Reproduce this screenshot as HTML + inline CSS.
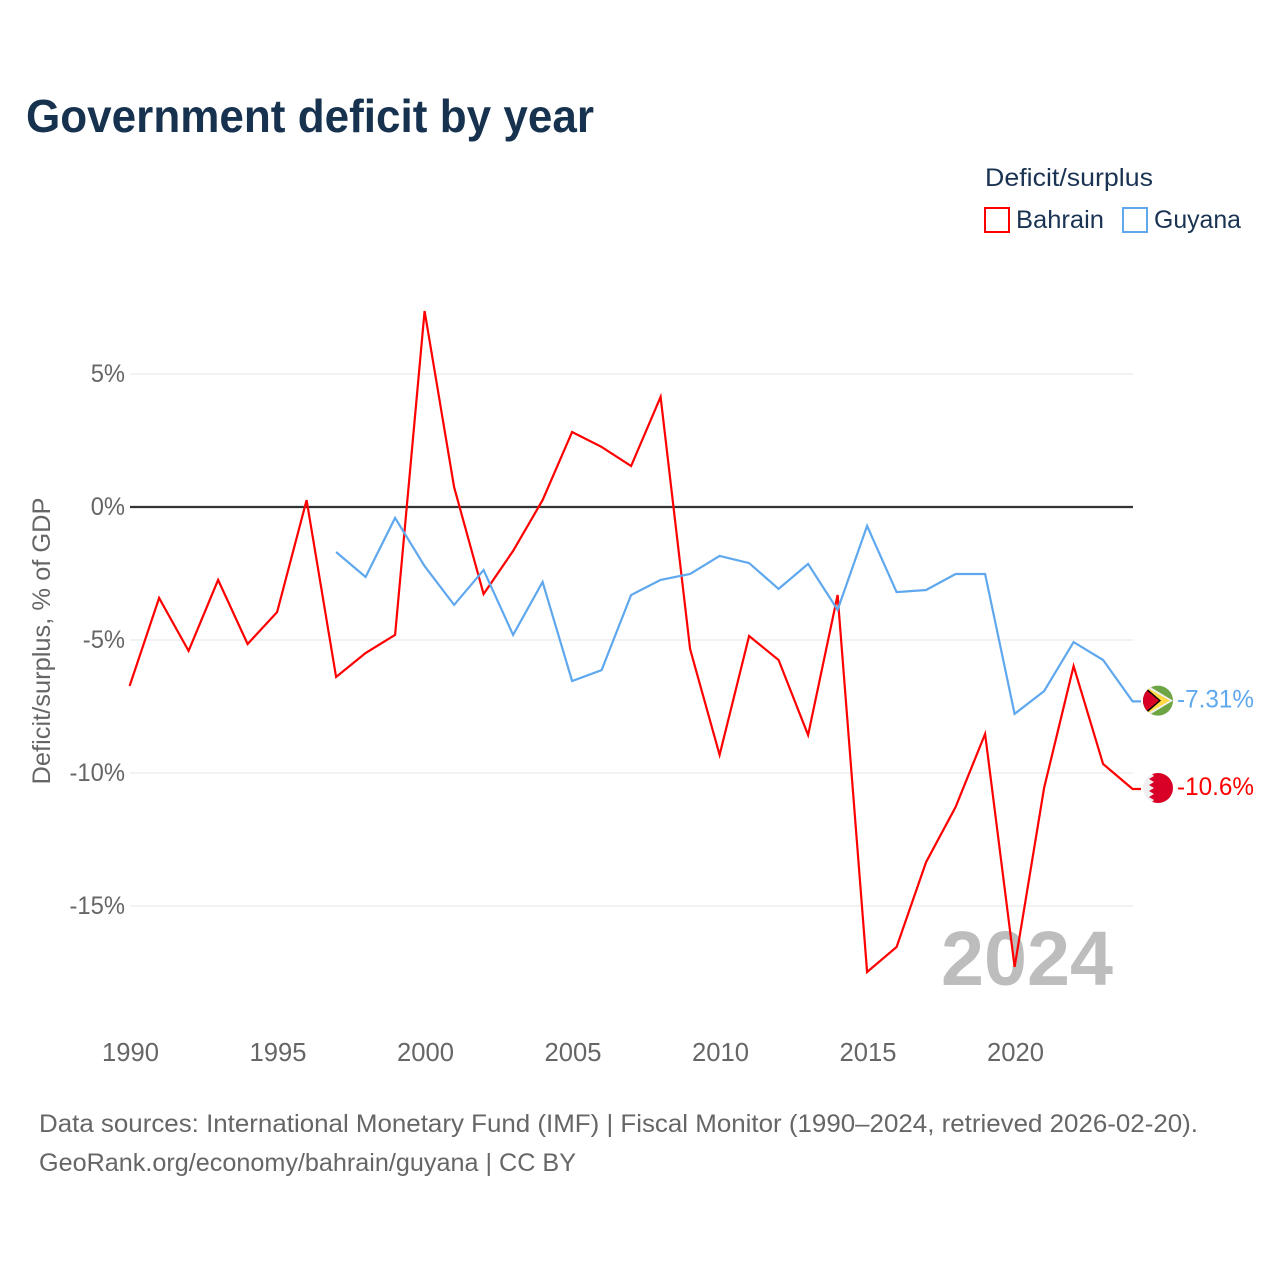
<!DOCTYPE html>
<html lang="en">
<head>
<meta charset="utf-8">
<title>Government deficit by year</title>
<style>
html,body{margin:0;padding:0;background:#fff;}
svg{display:block;font-family:"Liberation Sans",sans-serif;}
</style>
</head>
<body>
<svg id="chart" width="1280" height="1280" viewBox="0 0 1280 1280" xmlns="http://www.w3.org/2000/svg">
  <rect width="1280" height="1280" fill="#fff"/>
  <text x="26" y="132" font-size="46" font-weight="700" fill="#17324f" textLength="568" lengthAdjust="spacingAndGlyphs">Government deficit by year</text>

  <text x="985" y="186" font-size="25" fill="#1a3353" textLength="168" lengthAdjust="spacingAndGlyphs">Deficit/surplus</text>
  <g>
    <rect x="985" y="208" width="24" height="24" fill="#fff" stroke="#ff0000" stroke-width="2"/>
    <text x="1016" y="228" font-size="25" fill="#1a3353" textLength="88" lengthAdjust="spacingAndGlyphs">Bahrain</text>
  </g>
  <g>
    <rect x="1123" y="208" width="24" height="24" fill="#fff" stroke="#5fa8ee" stroke-width="2"/>
    <text x="1154" y="228" font-size="25" fill="#1a3353" textLength="87" lengthAdjust="spacingAndGlyphs">Guyana</text>
  </g>

  <text transform="translate(50,641) rotate(-90)" text-anchor="middle" font-size="25" fill="#666" textLength="287" lengthAdjust="spacingAndGlyphs">Deficit/surplus, % of GDP</text>

  <g id="grid"></g>
  <g id="yticks"></g>
  <g id="xticks"></g>

  <text x="1113" y="985" text-anchor="end" font-size="77" font-weight="700" fill="#bdbdbd" textLength="172" lengthAdjust="spacingAndGlyphs">2024</text>

  <g id="series"></g>
  <g id="ends"></g>

  <text x="39" y="1132" font-size="25" fill="#666" textLength="1159" lengthAdjust="spacingAndGlyphs">Data sources: International Monetary Fund (IMF) | Fiscal Monitor (1990–2024, retrieved 2026-02-20).</text>
  <text x="39" y="1171" font-size="25" fill="#666" textLength="537" lengthAdjust="spacingAndGlyphs">GeoRank.org/economy/bahrain/guyana | CC BY</text>
</svg>
<script>
const years = [1990,1991,1992,1993,1994,1995,1996,1997,1998,1999,2000,2001,2002,2003,2004,2005,2006,2007,2008,2009,2010,2011,2012,2013,2014,2015,2016,2017,2018,2019,2020,2021,2022,2023,2024];
const bahrainValues = [-6.73,-3.42,-5.41,-2.74,-5.15,-3.95,0.26,-6.39,-5.49,-4.81,7.37,0.75,-3.27,-1.65,0.26,2.82,2.26,1.54,4.14,-5.34,-9.32,-4.85,-5.75,-8.57,-3.31,-17.48,-16.54,-13.35,-11.28,-8.53,-17.29,-10.56,-5.98,-9.66,-10.6];
const guyanaValues = [null,null,null,null,null,null,null,-1.69,-2.63,-0.41,-2.22,-3.68,-2.37,-4.81,-2.82,-6.54,-6.13,-3.31,-2.74,-2.52,-1.84,-2.11,-3.08,-2.14,-3.87,-0.71,-3.20,-3.12,-2.52,-2.52,-7.78,-6.92,-5.08,-5.75,-7.31];
const yTicks = [5,0,-5,-10,-15];
const xTicks = [1990,1995,2000,2005,2010,2015,2020];
const bahrainLabel = "-10.6%";
const guyanaLabel = "-7.31%";

const NS = "http://www.w3.org/2000/svg";
const xScale = function (yr) { return 129.6 + (yr - 1990) * 29.5; };
const yScale = function (v) { return 507 - v * 26.6; };
const stubEnd = 1141;
function make(tag, attrs, parent, txt) {
  const el = document.createElementNS(NS, tag);
  for (const k in attrs) el.setAttribute(k, attrs[k]);
  if (txt !== undefined) el.textContent = txt;
  parent.appendChild(el);
  return el;
}
const gridG = document.getElementById("grid");
const yG = document.getElementById("yticks");
const xG = document.getElementById("xticks");
const seriesG = document.getElementById("series");
const endsG = document.getElementById("ends");

yTicks.filter(function (t) { return t !== 0; }).forEach(function (t) {
  const line = make("line", {x1:130, x2:1133, y1:yScale(t), y2:yScale(t), stroke:"#e6e6e6", "stroke-width":1}, gridG);
  
  
});
yTicks.forEach(function (t) {
  const lab = make("text", {x:125, y:yScale(t) + 8, "text-anchor":"end", "font-size":25, fill:"#666"}, yG, t + "%");
  
  
  lab.setAttribute("textLength", (lab.getComputedTextLength() * 0.95).toFixed(1));
  lab.setAttribute("lengthAdjust", "spacingAndGlyphs");
});
xTicks.forEach(function (t) {
  const lab = make("text", {x:xScale(t) + 0.9, y:1061, "text-anchor":"middle", "font-size":25.6, fill:"#666"}, xG, String(t));
  
  
});
const zero = make("line", {x1:130, x2:1133, y1:yScale(0), y2:yScale(0), stroke:"#333", "stroke-width":2.3}, gridG);



function lastOf(arr) { return arr[arr.length - 1]; }
function pathFor(vals) {
  const pts = [];
  vals.forEach(function (v, i) {
    if (v !== null) pts.push(xScale(years[i]).toFixed(1) + "," + yScale(v).toFixed(1));
  });
  pts.push(stubEnd + "," + yScale(lastOf(vals)).toFixed(1));
  return "M" + pts.join("L");
}
const bahrainLine = make("path", {d:pathFor(bahrainValues), fill:"none", stroke:"#ff0000", "stroke-width":2.2, "stroke-linejoin":"miter"}, seriesG);


const guyanaLine = make("path", {d:pathFor(guyanaValues), fill:"none", stroke:"#5fa8ee", "stroke-width":2.2, "stroke-linejoin":"miter"}, seriesG);



/* Guyana flag and label */
const gy = yScale(lastOf(guyanaValues));
const gFlag = make("g", {transform:"translate(1158," + (gy - 0.8).toFixed(1) + ")"}, endsG);


make("circle", {cx:0, cy:0, r:15, fill:"#6da544"}, gFlag);
const cpG = make("clipPath", {id:"clip-gy"}, gFlag);
make("circle", {cx:0, cy:0, r:15}, cpG);
const gInner = make("g", {"clip-path":"url(#clip-gy)"}, gFlag);
make("path", {d:"M-10,-15 L15,0 L-10,15 Z", fill:"#f0f0f0"}, gInner);
make("path", {d:"M-11,-13 L12,0 L-11,13 Z", fill:"#ffda44"}, gInner);
make("path", {d:"M-15,-12 L-11,-12 L3,0 L-11,12 L-15,12 Z", fill:"#000"}, gInner);
make("path", {d:"M-15,-9 L-11,-10 L1,0 L-11,10 L-15,9 Z", fill:"#d80027"}, gInner);
const gLabel = make("text", {x:1177, y:gy + 6, "font-size":25, fill:"#5fa8ee", textLength:77, lengthAdjust:"spacingAndGlyphs"}, endsG, guyanaLabel);



/* Bahrain flag and label */
const by = yScale(lastOf(bahrainValues));
const bFlag = make("g", {transform:"translate(1158," + (by - 1).toFixed(1) + ")"}, endsG);


make("circle", {cx:0, cy:0, r:15, fill:"#f0f0f0"}, bFlag);
const cpB = make("clipPath", {id:"clip-bh"}, bFlag);
make("circle", {cx:0, cy:0, r:15}, cpB);
const bInner = make("g", {"clip-path":"url(#clip-bh)"}, bFlag);
make("path", {d:"M-7,-15 L-4,-12 L-9,-9 L-4,-6 L-9,-3 L-4,0 L-9,3 L-4,6 L-9,9 L-4,12 L-7,15 L15,15 L15,-15 Z", fill:"#d80027"}, bInner);
const bLabel = make("text", {x:1177, y:by + 6, "font-size":25, fill:"#ff0000", textLength:77, lengthAdjust:"spacingAndGlyphs"}, endsG, bahrainLabel);


</script>
</body>
</html>
